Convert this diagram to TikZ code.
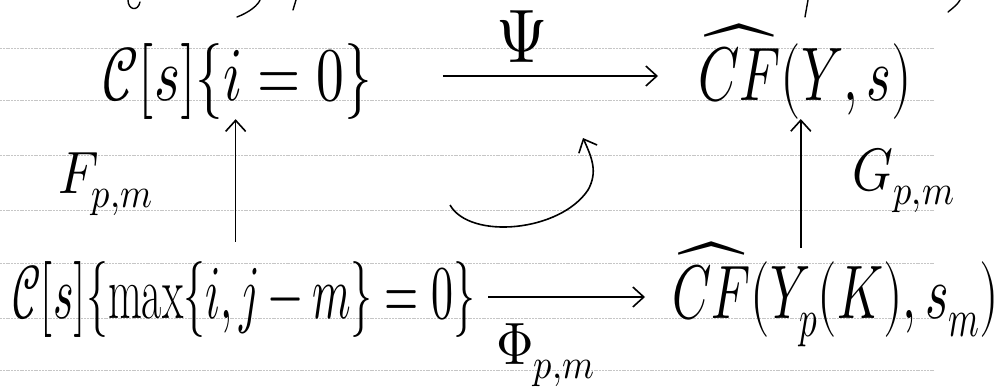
\documentclass[tikz,border=0pt]{standalone}
\usepackage{unicode-math}
\setmathfont{Latin Modern Math}
\usetikzlibrary{arrows.meta}
\begin{document}
\begin{tikzpicture}[x=1pt,y=-1pt,
  lbl/.style={inner sep=0pt, font=\fontsize{66}{72}\selectfont, yscale=1.15, transform shape},
  smalllbl/.style={inner sep=0pt, font=\fontsize{52}{58}\selectfont, yscale=1.15, transform shape},
  arr/.style={line width=1.6pt, -{Straight Barb[length=11pt,width=20pt,line width=1.6pt]}},
  stroke/.style={line width=1.4pt, line cap=round},
  ruled/.style={gray!45, line width=0.8pt, dash pattern=on 2pt off 0.8pt}]
\useasboundingbox (0,0) rectangle (1004,391);
\foreach \yy in {48,100,155,210,263,318,370} \draw[ruled] (0,\yy) -- (935,\yy);
% fragments of the line above
\draw[stroke] (128,0) .. controls (128,10) and (138,12) .. (140,2);
\draw[stroke] (237,17) .. controls (250,12) and (258,5) .. (260,0);
\draw[stroke] (293,10) -- (296,0);
\draw[stroke] (805,17) -- (808,0);
\draw[stroke] (948,12) .. controls (953,8) and (958,4) .. (960,0);
% nodes
\node[lbl, anchor=base west, xscale=0.84] (tl) at (102,100) {$\mathcal{C}[s]\{i=0\}$};
\node[lbl, anchor=base west, xscale=0.80] (tr) at (698,100) {$\widehat{CF}(Y,s)$};
\node[lbl, anchor=base west, xscale=0.665] (bl) at (12,318) {$\mathcal{C}[s]\{\max\{i,j-m\}=0\}$};
\node[lbl, anchor=base west, xscale=0.76] (br) at (672,318) {$\widehat{CF}(Y_p(K),s_m)$};
% labels
\node[lbl, anchor=base] (psi) at (522,62) {$\Psi$};
\node[smalllbl, anchor=base west] (phi) at (496,364) {$\Phi_{p,m}$};
\node[smalllbl, anchor=base west] (F) at (58,193) {$F_{p,m}$};
\node[smalllbl, anchor=base west] (G) at (852,190) {$G_{p,m}$};
% arrows
\draw[arr] ([xshift=71pt,yshift=24pt]tl.base east) -- ([xshift=-40pt,yshift=24pt]tr.base west);
\draw[arr] ([xshift=13pt,yshift=21pt]bl.base east) -- ([xshift=-27pt,yshift=21pt]br.base west);
\draw[arr, shorten <=19pt] ([xshift=-8pt]bl.north) -- ([xshift=-8pt]bl.north |- tl.south);
\draw[arr, shorten <=-6pt] ([xshift=-35pt]br.north) -- ([xshift=-35pt]br.north |- tr.south);
% commutativity arrow
\coordinate (c1) at (450,205);
\coordinate (c2) at (583,138);
\draw[arr] (c1) .. controls (470,240) and (560,232) .. (588,190) .. controls (598,172) and (592,158) .. (c2);
\end{tikzpicture}
\end{document}
